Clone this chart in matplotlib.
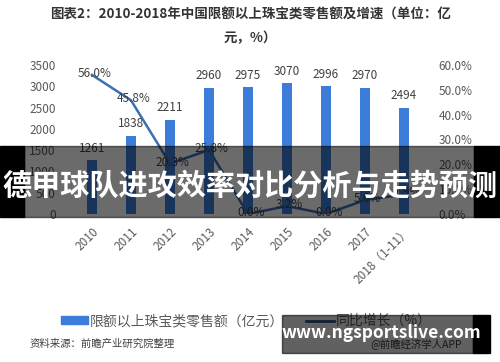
import numpy as np
import matplotlib.pyplot as plt
from matplotlib.patches import Rectangle, Patch
from matplotlib.lines import Line2D

plt.rcParams['font.family'] = ['Noto Sans CJK SC', 'DejaVu Sans']

years = ['2010', '2011', '2012', '2013', '2014', '2015', '2016', '2017', '2018（1-11）']
sales = [1261, 1838, 2211, 2960, 2975, 3070, 2996, 2970, 2494]
growth = [56.0, 45.8, 20.3, 25.8, 0.0, 3.2, 0.0, 5.6, 7.9]
growth_labels = ['56.0%', '45.8%', '20.3%', '25.8%', '0.0%', '3.2%', '0.0%', '5.6%', '7.9%']

bar_color = '#3C7DD9'
line_color = '#3B6FB6'
tick_color = '#595959'

W, H = 500, 362
fig = plt.figure(figsize=(W / 100, H / 100), dpi=100)
fig.patch.set_facecolor('white')

def fx(px):
    return px / W

def fy(py):
    return 1 - py / H

ax = fig.add_axes([fx(72.5), fy(214), fx(351), fy(65) - fy(214)])
x = np.arange(len(years))
ax.bar(x, sales, width=0.26, color=bar_color, zorder=2)
for xi, v in zip(x, sales):
    ax.annotate(str(v), (xi, v), xytext=(0, 4), textcoords='offset points',
                ha='center', va='bottom', fontsize=8.5, color='#404040')
ax.set_ylim(0, 3500)
ax.set_yticks(np.arange(0, 3501, 500))
ax.set_xlim(-0.5, len(years) - 0.5)
ax.set_xticks(x)
ax.set_xticklabels(years, rotation=45, ha='right', rotation_mode='anchor')
for s in ax.spines.values():
    s.set_visible(False)
ax.tick_params(length=0, colors=tick_color, labelsize=8.5)
ax.tick_params(axis='x', pad=8)
ax.tick_params(axis='y', pad=12)

ax2 = ax.twinx()
ax2.plot(x, growth, color=line_color, lw=1.8, zorder=3)
for xi, v, lab in zip(x, growth, growth_labels):
    ax2.annotate(lab, (xi, v), xytext=(2, 1), textcoords='offset points',
                 ha='center', va='center', fontsize=8.5, color='#404040')
ax2.set_ylim(0, 60)
ax2.set_yticks(np.arange(0, 61, 10))
ax2.set_yticklabels([f'{t:.1f}%' for t in np.arange(0, 61, 10)])
for s in ax2.spines.values():
    s.set_visible(False)
ax2.tick_params(length=0, colors=tick_color, labelsize=8.5, pad=11)

fig.text(0.5, fy(15), '图表2：2010-2018年中国限额以上珠宝类零售额及增速（单位：亿',
         ha='center', va='center', fontsize=9.7, fontweight='bold', color='#333333')
fig.text(0.5, fy(38), '元，%）', ha='center', va='center', fontsize=9.7,
         fontweight='bold', color='#333333')

handles = [Patch(color=bar_color), Line2D([0], [0], color='#2F5592', lw=2)]
fig.legend(handles, ['限额以上珠宝类零售额（亿元）', '同比增长（%）'], ncol=2,
           loc='center', bbox_to_anchor=(fx(246), fy(321)), frameon=False,
           fontsize=10, labelcolor='#595959', handlelength=2.0, handleheight=0.5,
           handletextpad=0.1, columnspacing=1.6)

fig.text(fx(30), fy(344), '资料来源：前瞻产业研究院整理', ha='left', va='center',
         fontsize=7.5, style='italic', color='#404040')
fig.text(fx(370), fy(344), '@前瞻经济学人APP', ha='left', va='center',
         fontsize=7.5, color='#404040')

# dark overlay band with headline
fig.patches.append(Rectangle((fx(24), fy(217)), fx(450), fy(146) - fy(217),
                             transform=fig.transFigure, color='black', alpha=0.58, zorder=10))
fig.patches.append(Rectangle((0, fy(217)), fx(24), fy(146) - fy(217),
                             transform=fig.transFigure, color='black', zorder=10))
fig.patches.append(Rectangle((fx(474), fy(217)), fx(26), fy(146) - fy(217),
                             transform=fig.transFigure, color='black', zorder=10))
fig.text(0.5, fy(186), '德甲球队进攻效率对比分析与走势预测', ha='center', va='center',
         fontsize=21, fontweight='bold', color='white', zorder=11)

# watermark box
fig.patches.append(Rectangle((fx(282), fy(353)), fx(191), fy(315) - fy(353),
                             transform=fig.transFigure, color='black', alpha=0.62, zorder=10))
fig.patches.append(Rectangle((fx(473), fy(353)), fx(17), fy(315) - fy(353),
                             transform=fig.transFigure, color='black', zorder=10))
fig.text(fx(381), fy(333), 'www.ngsportslive.com', ha='center', va='center',
         fontsize=12.5, fontweight='bold', color='white', zorder=11)

fig.savefig('out.png', dpi=100)
